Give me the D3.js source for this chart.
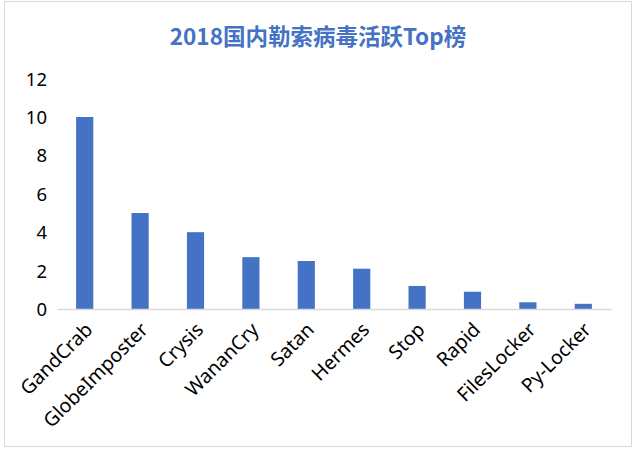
<!DOCTYPE html>
<meta charset="utf-8">
<style>
    body { margin: 0; background: #fff; }
    text { font-family: "Noto Sans", "Open Sans", sans-serif; fill: #000; }
    .title { font-family: "Noto Sans CJK SC", "Noto Sans", sans-serif; font-weight: bold; fill: #4472C4; }
</style>
<svg width="635" height="450"></svg>
<script src="https://cdn.jsdelivr.net/npm/d3@7"></script>
<script>
    var categories = ["GandCrab", "GlobeImposter", "Crysis", "WananCry", "Satan", "Hermes", "Stop", "Rapid", "FilesLocker", "Py-Locker"];
    var counts = [10, 5, 4, 2.7, 2.5, 2.1, 1.2, 0.9, 0.35, 0.27];
    var yTicks = [0, 2, 4, 6, 8, 10, 12];

    var svg = d3.select("svg");

    // chart frame
    svg.append("rect")
        .attr("x", 4.5).attr("y", 1.5)
        .attr("width", 627).attr("height", 445)
        .attr("fill", "none")
        .attr("stroke", "#d9d9d9");

    svg.append("text")
        .attr("class", "title")
        .attr("x", 318)
        .attr("y", 45)
        .attr("text-anchor", "middle")
        .style("font-size", "22.5px")
        .text("2018国内勒索病毒活跃Top榜");

    var margin = { top: 78.6, left: 57 },
        width = 611 - margin.left,
        height = 309 - margin.top;

    var x = d3.scaleBand()
        .domain(categories)
        .range([0, width])
        .paddingInner(0.69)
        .paddingOuter(0.345);

    var y = d3.scaleLinear()
        .domain([0, 12])
        .range([height, 0]);

    var g = svg.append("g")
        .attr("transform", "translate(" + margin.left + "," + margin.top + ")");

    g.selectAll(".bar")
        .data(categories)
        .enter().append("rect")
        .attr("class", "bar")
        .attr("x", function (d) { return x(d); })
        .attr("y", function (d, i) { return y(counts[i]); })
        .attr("width", x.bandwidth())
        .attr("height", function (d, i) { return height - y(counts[i]); })
        .attr("fill", "#4472C4");

    // y axis: labels only
    var yAxis = g.append("g")
        .call(d3.axisLeft(y).tickValues(yTicks).tickSize(0).tickPadding(10));
    yAxis.select(".domain").remove();
    yAxis.selectAll("text")
        .style("font-size", "18.5px")
        .attr("dy", "0.35em");

    // x axis
    var xAxis = g.append("g")
        .attr("transform", "translate(0," + height + ")")
        .call(d3.axisBottom(x).tickSize(0));
    xAxis.select(".domain")
        .attr("stroke", "#d9d9d9")
        .attr("stroke-width", 1.3);
    xAxis.selectAll("text")
        .style("font-size", "19.5px")
        .attr("text-anchor", "end")
        .attr("dy", "0")
        .attr("transform", "translate(9,22) rotate(-45)")
        .attr("y", 0)
        .attr("x", 0);
</script>
